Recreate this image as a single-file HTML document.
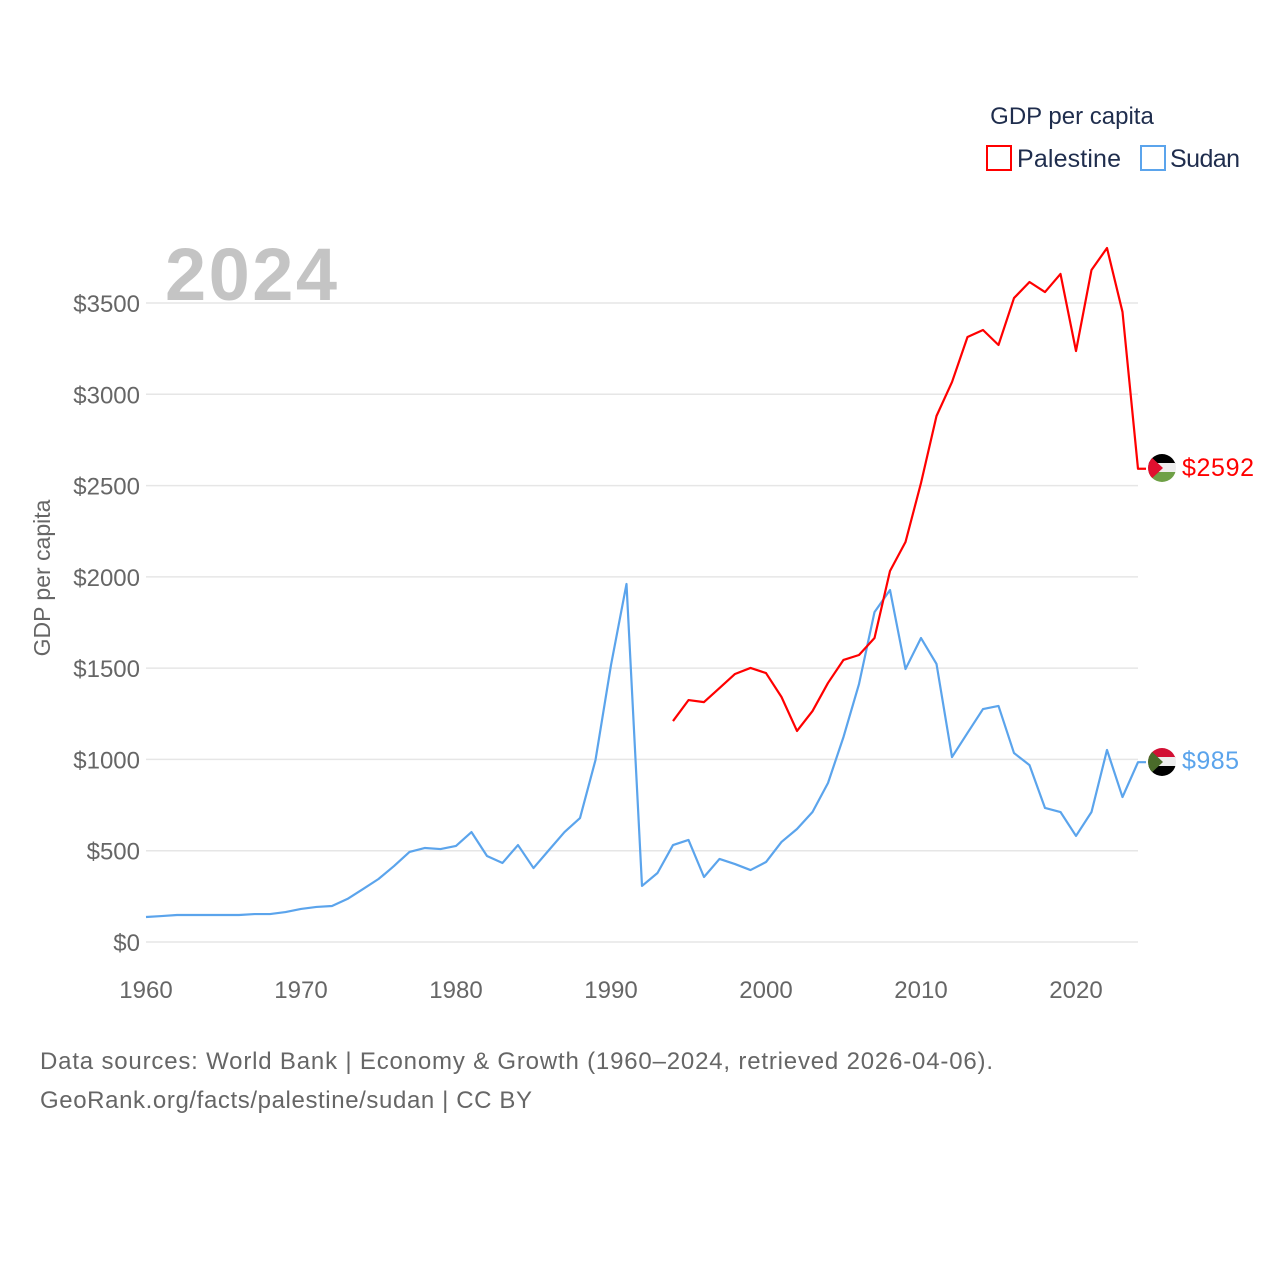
<!DOCTYPE html>
<html><head><meta charset="utf-8"><style>
html,body{margin:0;padding:0;background:#fff}
svg text{font-family:"Liberation Sans",sans-serif}
</style></head><body>
<svg width="1280" height="1280" viewBox="0 0 1280 1280">
<g id="grid"></g>
<g id="xt"></g>
<text x="1072" y="124" font-size="24" fill="#1f2d4d" text-anchor="middle">GDP per capita</text>
<rect x="987" y="146" width="24" height="24" fill="none" stroke="#f00" stroke-width="2"/>
<text x="1017" y="167" font-size="25" fill="#1f2d4d" textLength="104">Palestine</text>
<rect x="1141" y="146" width="24" height="24" fill="none" stroke="#5ba4ec" stroke-width="2"/>
<text x="1170" y="167" font-size="25" fill="#1f2d4d" textLength="70">Sudan</text>
<text x="165" y="300" font-size="74" font-weight="bold" fill="#c4c4c4" textLength="172">2024</text>
<text transform="translate(50,578) rotate(-90)" font-size="23" fill="#666" text-anchor="middle">GDP per capita</text>
<g id="lines"></g>
<g>
<clipPath id="cp"><circle cx="1162" cy="468" r="14"/></clipPath>
<g clip-path="url(#cp)"><rect x="1148" y="454" width="28" height="10" fill="#000"/><rect x="1148" y="463" width="28" height="10" fill="#eee"/><rect x="1148" y="472" width="28" height="10" fill="#6ea046"/><polygon points="1148,454 1163,468 1148,482" fill="#e0102f"/></g>
</g>
<g>
<clipPath id="cs"><circle cx="1162" cy="762" r="14"/></clipPath>
<g clip-path="url(#cs)"><rect x="1148" y="748" width="28" height="10" fill="#d21034"/><rect x="1148" y="757" width="28" height="10" fill="#eee"/><rect x="1148" y="766" width="28" height="10" fill="#000"/><polygon points="1148,748 1163,762 1148,776" fill="#4a6b2a"/></g>
</g>
<text id="lp" x="1182" y="476" font-size="25" fill="#f00" textLength="72"></text>
<text id="ls" x="1182" y="769" font-size="25" fill="#5ba4ec" textLength="57"></text>
<text x="40" y="1069" font-size="24" fill="#666" textLength="953">Data sources: World Bank | Economy &amp; Growth (1960–2024, retrieved 2026-04-06).</text>
<text x="40" y="1108" font-size="24" fill="#666" textLength="492">GeoRank.org/facts/palestine/sudan | CC BY</text>
</svg>
<script>
const yTicks=[0,500,1000,1500,2000,2500,3000,3500];
const xTicks=[1960,1970,1980,1990,2000,2010,2020];
const sudanStart=1960;
const sudan=[137,142,148,148,148,148,148,153,153,164,181,192,197,236,290,345,416,493,515,509,526,602,471,433,531,405,504,602,679,997,1517,1961,307,378,531,559,356,455,427,394,438,548,619,712,871,1123,1413,1807,1928,1495,1665,1523,1013,1145,1276,1293,1035,969,734,712,581,712,1052,794,985];
const palStart=1994;
const palestine=[1210,1325,1314,1391,1468,1501,1473,1342,1156,1265,1419,1545,1572,1665,2032,2191,2514,2881,3067,3314,3352,3270,3527,3615,3560,3659,3237,3681,3801,3451,2592];
const X=y=>146+(y-1960)*15.5;
const Y=v=>942-v*639/3500;
const NS="http://www.w3.org/2000/svg";
const grid=document.getElementById('grid');
yTicks.forEach(t=>{
 const l=document.createElementNS(NS,'line');
 l.setAttribute('x1',146);l.setAttribute('x2',1138);l.setAttribute('y1',Y(t));l.setAttribute('y2',Y(t));
 l.setAttribute('stroke','#e6e6e6');l.setAttribute('stroke-width','1.5');
 
 
 grid.appendChild(l);
 const tx=document.createElementNS(NS,'text');
 tx.setAttribute('x',140);tx.setAttribute('y',Y(t)+9);tx.setAttribute('text-anchor','end');
 tx.setAttribute('font-size','24');tx.setAttribute('fill','#666');tx.textContent='$'+t;
 
 
 grid.appendChild(tx);
});
const xt=document.getElementById('xt');
xTicks.forEach(t=>{
 const tx=document.createElementNS(NS,'text');
 tx.setAttribute('x',X(t));tx.setAttribute('y',998);tx.setAttribute('text-anchor','middle');
 tx.setAttribute('font-size','24');tx.setAttribute('fill','#666');tx.textContent=t;
 
 
 xt.appendChild(tx);
});
function line(arr,start,color,name){
 let pts=arr.map((v,i)=>X(start+i)+','+Y(v));
 const last=arr[arr.length-1];
 pts.push((X(start+arr.length-1)+8)+','+Y(last));
 const p=document.createElementNS(NS,'polyline');
 p.setAttribute('points',pts.join(' '));p.setAttribute('fill','none');
 p.setAttribute('stroke',color);p.setAttribute('stroke-width','2.2');p.setAttribute('stroke-linejoin','round');
 
 
 document.getElementById('lines').appendChild(p);
}
line(sudan,sudanStart,'#5ba4ec','sudan-line');
line(palestine,palStart,'#f00','palestine-line');
document.getElementById('lp').textContent='$'+palestine[palestine.length-1];
document.getElementById('ls').textContent='$'+sudan[sudan.length-1];
</script>
</body></html>
